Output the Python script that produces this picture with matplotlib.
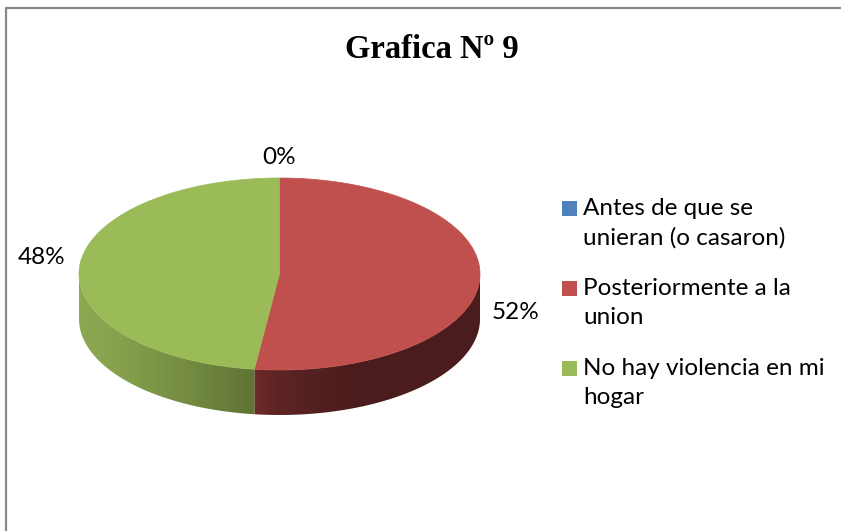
import numpy as np
import matplotlib
matplotlib.use("Agg")
import matplotlib.pyplot as plt
from matplotlib.patches import Polygon, Rectangle
from matplotlib.colors import to_rgb

# ---- data ----
title = "Grafica Nº 9"
categories = ["Antes de que se\nunieran (o casaron)",
              "Posteriormente a la\nunion",
              "No hay violencia en mi\nhogar"]
values = [0, 52, 48]
pct_labels = ["0%", "52%", "48%"]
top_colors = ["#4F81BD", "#C0504D", "#9BBB59"]
side_light = ["#3F6797", "#742D2D", "#8DA851"]
side_dark = ["#2A4566", "#4A1C1D", "#5E7233"]

W, H = 841, 531
fig = plt.figure(figsize=(W / 100, H / 100), dpi=100)
ax = fig.add_axes([0, 0, 1, 1])
ax.set_xlim(0, W)
ax.set_ylim(H, 0)
ax.axis("off")

# chart-area border (cropped: only top and left visible)
ax.plot([6, 6, W + 5], [H + 5, 8, 8], color="#888888", lw=1.6, solid_capstyle="butt")

ax.text(432, 50, title, ha="center", va="center", fontsize=23.5, fontweight="bold",
        family="Liberation Serif")

# pie geometry
cx, cy, rx, ry, depth = 279.5, 274, 200.5, 96, 45
total = float(sum(values))
starts = np.cumsum([0] + values[:-1]) / total * 360.0
ends = np.cumsum(values) / total * 360.0


def pt(theta_deg, dy=0.0):
    t = np.radians(theta_deg)
    return cx + rx * np.sin(t), cy - ry * np.cos(t) + dy


def gradient_image(c1, c2, power=1.0):
    xs = np.linspace(0, 1, 256) ** power
    a, b = np.array(to_rgb(c1)), np.array(to_rgb(c2))
    row = a[None, :] + (b - a)[None, :] * xs[:, None]
    return np.repeat(row[None, :, :], 2, axis=0)


# side walls (visible front half: 90..270 degrees clockwise from top)
for i, (s, e) in enumerate(zip(starts, ends)):
    if e - s <= 0:
        continue
    a0, a1 = max(s, 90), min(e, 270)
    if a1 <= a0:
        continue
    th = np.linspace(a0, a1, 200)
    top = [pt(t) for t in th]
    bot = [pt(t, depth) for t in th[::-1]]
    poly = Polygon(top + bot, closed=True, facecolor="none", edgecolor="none")
    ax.add_patch(poly)
    xs = [p[0] for p in top]
    xmin, xmax = min(xs), max(xs)
    if i == 1:   # red: light at the cut, dark towards right
        img = gradient_image(side_light[i], side_dark[i], 0.45)
        ext = (xmin, xmin + 110, cy + ry + depth + 5, cy - 5)
        im = ax.imshow(img, extent=ext, aspect="auto", interpolation="bilinear", zorder=1)
        im2 = ax.imshow(np.full((2, 2, 3), to_rgb(side_dark[i])),
                        extent=(xmin + 109, xmax + 2, cy + ry + depth + 5, cy - 5),
                        aspect="auto", zorder=1)
        im2.set_clip_path(poly)
    else:        # green: light at left, darker towards cut
        img = gradient_image(side_light[i], side_dark[i], 1.3)
        ext = (xmin - 1, xmax + 1, cy + ry + depth + 5, cy - 5)
        im = ax.imshow(img, extent=ext, aspect="auto", interpolation="bilinear", zorder=1)
    im.set_clip_path(poly)

ax.set_xlim(0, W)
ax.set_ylim(H, 0)

# top faces
for i, (s, e) in enumerate(zip(starts, ends)):
    if e - s <= 0:
        continue
    th = np.linspace(s, e, int((e - s) * 2) + 2)
    pts = [(cx, cy)] + [pt(t) for t in th]
    ax.add_patch(Polygon(pts, closed=True, facecolor=top_colors[i],
                         edgecolor=top_colors[i], lw=0.5, zorder=2))

# percentage labels
offsets = {0: (0, -21), 1: (36, 32), 2: (-38, -10)}
for i, (s, e) in enumerate(zip(starts, ends)):
    mid = 0.5 * (s + e)
    x, y = pt(mid)
    dx, dy = offsets[i]
    ax.text(x + dx, y + dy, pct_labels[i], ha="center", va="center",
            fontsize=17.5, family="Lato", color="#000000", zorder=3)

# legend
ly = [208, 288, 368]
for i, cat in enumerate(categories):
    ax.add_patch(Rectangle((562, ly[i] - 7), 15, 15, facecolor=top_colors[i],
                           edgecolor="none", zorder=3))
    ax.text(583, ly[i] - 10, cat, ha="left", va="top", fontsize=17.5, family="Lato",
            linespacing=1.45, color="#000000", zorder=3)

fig.savefig("out.png", dpi=100)
